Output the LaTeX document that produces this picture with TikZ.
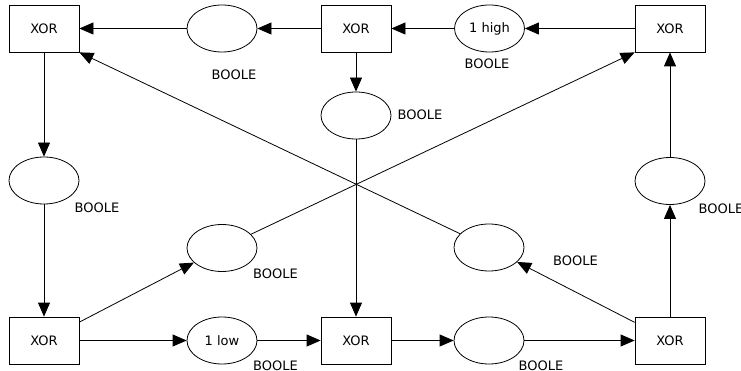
\documentclass[tikz,border=0pt]{standalone}
\usepackage{fontspec}
\setmainfont{DejaVu Sans}
\usetikzlibrary{shapes.geometric,arrows.meta}
\begin{document}
\begin{tikzpicture}[x=1pt,y=-1pt,
  font=\fontsize{13}{15}\selectfont,
  every path/.style={line width=0.8pt},
  xorbox/.style={draw, rectangle, minimum width=70pt, minimum height=47pt, inner sep=0pt},
  place/.style={draw, ellipse, minimum width=70pt, minimum height=47pt, inner sep=0pt},
  lbl/.style={inner sep=0pt, anchor=center},
  conn/.style={-{Triangle[length=14pt,width=12pt]}}]
\useasboundingbox (0,0) rectangle (741,371);
\fill[white] (0,0) rectangle (741,371);
% XOR boxes
\node[xorbox] (x1) at (44,28.5) {XOR};
\node[xorbox] (x2) at (356,28.5) {XOR};
\node[xorbox] (x3) at (670,28.5) {XOR};
\node[xorbox] (x4) at (44,340.5) {XOR};
\node[xorbox] (x5) at (356,340.5) {XOR};
\node[xorbox] (x6) at (670,340.5) {XOR};
% places
\node[place] (e1) at (222,28.5) {};
\node[place] (e2) at (489.5,28.5) {1 high};
\node[place] (e3) at (356,115.5) {};
\node[place] (e4) at (44,180.5) {};
\node[place] (e5) at (670,181) {};
\node[place] (e6) at (222,248) {};
\node[place] (e7) at (489,247.5) {};
\node[place] (e8) at (222,340.5) {1 low};
\node[place] (e9) at (489,340.5) {};
% labels
\node[lbl] (l1) at (234,75) {BOOLE};
\node[lbl] (l2) at (487,64) {BOOLE};
\node[lbl] (l3) at (420,115) {BOOLE};
\node[lbl] (l4) at (97,208) {BOOLE};
\node[lbl] (l5) at (721,208.5) {BOOLE};
\node[lbl] (l6) at (275.5,273.5) {BOOLE};
\node[lbl] (l7) at (575.5,261) {BOOLE};
\node[lbl] (l8) at (275.5,366) {BOOLE};
\node[lbl] (l9) at (541,366) {BOOLE};
% connectors
\draw[conn] (e1) -- (x1);
\draw[conn] (x2) -- (e1);
\draw[conn] (e2) -- (x2);
\draw[conn] (x3) -- (e2);
\draw[conn] (x2) -- (e3);
\draw[conn] (e3) -- (x5);
\draw[conn] (x1) -- (e4);
\draw[conn] (e4) -- (x4);
\draw[conn] (x4) -- (e8);
\draw[conn] (e8) -- (x5);
\draw[conn] (x5) -- (e9);
\draw[conn] (e9) -- (x6);
\draw[conn] (x4) -- (e6);
\draw[conn] (e6) -- (x3.south west);
\draw[conn] (x6) -- (e7);
\draw[conn] (e7) -- (x1.south east);
\draw[conn] (x6) -- (e5);
\draw[conn] (e5) -- (x3);
\end{tikzpicture}
\end{document}
